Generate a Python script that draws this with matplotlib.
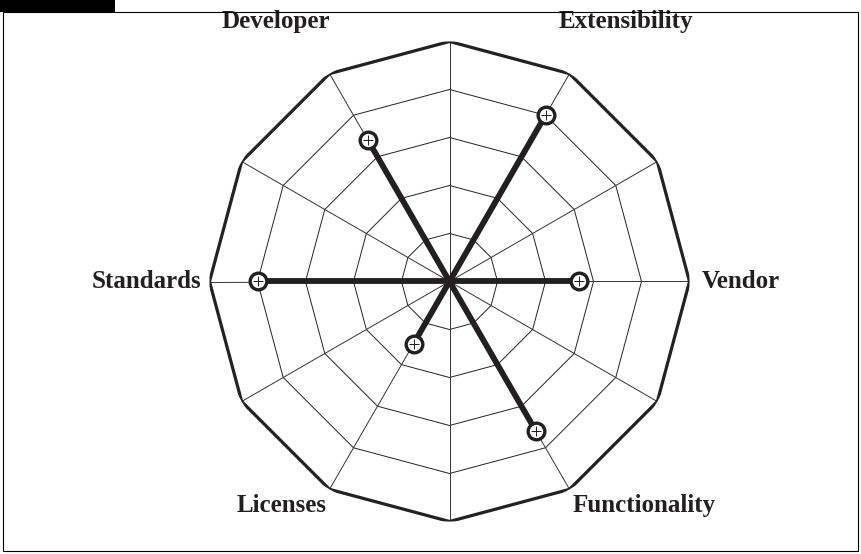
import numpy as np
import matplotlib.pyplot as plt
from matplotlib.patches import Rectangle

# axis names clockwise from the top-right spoke, and the score on each (0-5)
labels = ['Extensibility', 'Vendor', 'Functionality', 'Licenses', 'Standards', 'Developer']
angles_deg = [30, 90, 150, 210, 270, 330]
scores = [4.0, 2.7, 3.6, 1.5, 4.0, 3.4]
rings = [1, 2, 3, 4, 5]
n_spokes = 12

# label offsets from the outer vertex, in pixels (x, y up)
label_offsets = [(56, 52), (12, 0), (75, -16), (-48, -16), (-8, 0), (-54, 52)]
label_ha = ['center', 'left', 'center', 'center', 'right', 'center']

plt.rcParams['font.family'] = ['Liberation Serif', 'DejaVu Serif']

W, H = 861, 554
fig = plt.figure(figsize=(W / 100, H / 100), dpi=100)

# outer frame and the black tab at the top left
fig.patches.append(Rectangle((3 / W, 3 / H), (W - 6) / W, (H - 15) / H, transform=fig.transFigure,
                             fill=False, edgecolor='black', linewidth=0.8))
fig.patches.append(Rectangle((0, (H - 12) / H), 115 / W, 12 / H, transform=fig.transFigure,
                             facecolor='black', edgecolor='none'))

cx, cy, R = 449.5, 281.5, 240
ax = fig.add_axes([(cx - R) / W, (H - cy - R) / H, 2 * R / W, 2 * R / H], projection='polar')
ax.set_theta_zero_location('N')
ax.set_theta_direction(-1)
ax.set_ylim(0, rings[-1])
ax.axis('off')

# grid: 12-sided rings and spokes
theta = np.linspace(0, 2 * np.pi, n_spokes + 1)
for r in rings:
    if r == rings[-1]:
        ax.plot(theta, [r] * len(theta), color='#222222', linewidth=2.3, zorder=2)
    else:
        ax.plot(theta, [r] * len(theta), color='#222222', linewidth=0.7, zorder=1)
for a in theta[:-1]:
    ax.plot([a, a], [0, rings[-1]], color='#333333', linewidth=0.7, zorder=1)

# score spokes with ringed markers
for a_deg, s in zip(angles_deg, scores):
    a = np.deg2rad(a_deg)
    ax.plot([a, a], [0, s], color='#231f20', linewidth=4.2, solid_capstyle='butt', zorder=3)
    ax.plot([a], [s], marker='o', markersize=12, markerfacecolor='white',
            markeredgecolor='#231f20', markeredgewidth=2.4, zorder=4)
    ax.plot([a], [s], marker='+', markersize=7, color='#231f20', markeredgewidth=0.7, zorder=5)

for lab, a_deg, off, ha in zip(labels, angles_deg, label_offsets, label_ha):
    ax.annotate(lab, xy=(np.deg2rad(a_deg), rings[-1]), xytext=off, textcoords='offset pixels',
                ha=ha, va='center', fontsize=18, fontweight='bold', color='#231f20',
                annotation_clip=False)

fig.savefig('out.png', dpi=100)
